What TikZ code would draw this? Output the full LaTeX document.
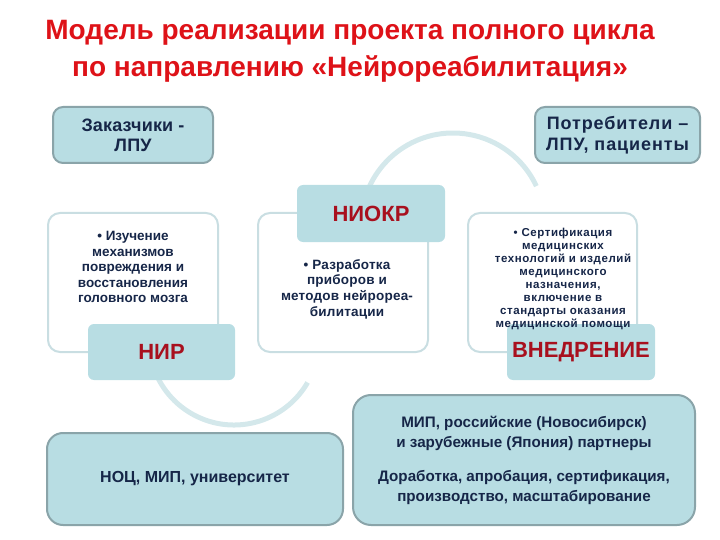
\documentclass[tikz,border=0pt]{standalone}
\usepackage{fontspec}
\setmainfont{Liberation Sans}
\usetikzlibrary{calc}
\definecolor{tealfill}{RGB}{184,221,227}
\definecolor{tealline}{RGB}{138,164,169}
\definecolor{wline}{RGB}{201,222,226}
\definecolor{arccol}{RGB}{212,232,235}
\definecolor{navy}{RGB}{22,38,72}
\definecolor{titlered}{RGB}{222,18,24}
\definecolor{labred}{RGB}{168,16,30}
\tikzset{
  tbox/.style={draw=tealline,line width=2pt,fill=tealfill,rounded corners=10pt,inner sep=0pt,
    text=navy,font=\bfseries\fontsize{16}{20}\selectfont,align=center},
  wbox/.style={draw=wline,line width=2pt,fill=white,rounded corners=12pt,inner sep=0pt},
  lbox/.style={fill=tealfill,rounded corners=6pt,inner sep=0pt,text=labred,
    font=\bfseries\fontsize{22}{24}\selectfont},
  wtext/.style={text=navy,align=center,inner sep=0pt},
  arcline/.style={draw=arccol,line width=5pt},
}
\begin{document}
\begin{tikzpicture}[x=1pt,y=-1pt]
\useasboundingbox (0,0) rectangle (720,540);
% title
\node[text=titlered,font=\bfseries\fontsize{28}{37}\selectfont,align=center,inner sep=0pt] (title) at (350,51)
  {Модель реализации проекта полного цикла\\по направлению «Нейрореабилитация»};
% background arcs
\coordinate (ac1) at (453,225);
\coordinate (ac2) at (234,340);
\draw[arcline] ($(ac1)+(190:92)$) arc[start angle=190,end angle=335,radius=92];
\draw[arcline] ($(ac2)+(160:85)$) arc[start angle=160,end angle=30,radius=85];
% top boxes
\node[tbox,minimum width=160pt,minimum height=56pt,font=\bfseries\fontsize{18}{20}\selectfont\addfontfeature{LetterSpace=1}] (zak) at (133,135) {Заказчики -\\ЛПУ};
\node[tbox,minimum width=165pt,minimum height=56pt,font=\bfseries\fontsize{18}{21}\selectfont\addfontfeature{LetterSpace=5}] (potr) at (617.5,135) {Потребители –\\ЛПУ, пациенты};
% white boxes
\node[wbox,minimum width=170pt,minimum height=139pt] (w1) at (133,282.5) {};
\node[wbox,minimum width=170pt,minimum height=139pt] (w2) at (343,282.5) {};
\node[wbox,minimum width=169pt,minimum height=139pt] (w3) at (552.5,282.5) {};
% label boxes
\node[lbox,minimum width=147pt,minimum height=56pt] (nir) at (161.5,352) {НИР};
\node[lbox,minimum width=148pt,minimum height=57pt] (niokr) at (371,213.5) {НИОКР};
\node[lbox,minimum width=148pt,minimum height=56pt] (vned) at (581,352) {ВНЕДРЕНИЕ};
% white box texts
\node[wtext,font=\bfseries\fontsize{13.5}{15.5}\selectfont] (w1t) at (133,267)
  {• Изучение\\механизмов\\повреждения и\\восстановления\\головного мозга};
\node[wtext,font=\bfseries\fontsize{13.5}{15.7}\selectfont\addfontfeature{LetterSpace=1.5}] (w2t) at (347,289)
  {• Разработка\\приборов и\\методов нейрореа-\\билитации};
\node[wtext,font=\bfseries\fontsize{11.5}{13}\selectfont\addfontfeature{LetterSpace=5}] (w3t) at (563,279)
  {• Сертификация\\медицинских\\технологий и изделий\\медицинского\\назначения,\\включение в\\стандарты оказания\\медицинской помощи};
% bottom boxes
\node[tbox,minimum width=296pt,minimum height=92pt,rounded corners=16pt,font=\bfseries\fontsize{16}{20}\selectfont] (noc) at (195,479) {НОЦ, МИП, университет};
\node[tbox,minimum width=342pt,minimum height=130pt,rounded corners=18pt,font=\bfseries\fontsize{15.2}{20}\selectfont] (mip) at (524,460)
  {МИП, российские (Новосибирск)\\и зарубежные (Япония) партнеры\\[14pt]Доработка, апробация, сертификация,\\производство, масштабирование};
\end{tikzpicture}
\end{document}
